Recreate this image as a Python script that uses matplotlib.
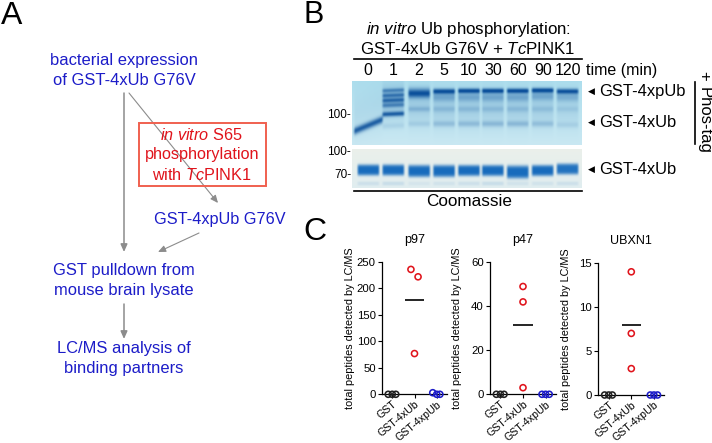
import numpy as np
import matplotlib
matplotlib.use('Agg')
import matplotlib.pyplot as plt
from matplotlib.patches import Rectangle

plt.rcParams['font.family'] = ['Liberation Sans', 'DejaVu Sans']
plt.rcParams['mathtext.fontset'] = 'custom'
plt.rcParams['mathtext.rm'] = 'Liberation Sans'
plt.rcParams['mathtext.it'] = 'Liberation Sans:italic'

# panel C data
categories = ['GST', 'GST-4xUb', 'GST-4xpUb']
p97_gst = [0, 0, 0]
p97_ub = [236, 222, 77]
p97_pub = [3, 0, 0]
p47_gst = [0, 0, 0]
p47_ub = [49, 42, 3]
p47_pub = [0, 0, 0]
ubxn1_gst = [0, 0, 0]
ubxn1_ub = [14, 7, 3]
ubxn1_pub = [0, 0, 0]

# panel B lanes
times = ['0', '1', '2', '5', '10', '30', '60', '90', '120']
# (y pixel in gel, width, strength) per lane
upper_bands = [
    [(125.5, 3.6, 0.85), (110, 22, .06)],
    [(90, 2.0, .5), (95, 2.1, .55), (100, 2.2, .6), (105, 2.2, .45), (114, 2.4, .8), (126, 3, .1), (100, 16, .25)],
    [(93, 4.6, .9), (109, 2.6, .2), (124, 2.8, .12), (105, 18, .14)],
    [(91, 2.6, .95), (97, 4.4, .32), (109, 3.0, .16), (124, 3.0, .2), (108, 18, .13)],
    [(90.5, 2.4, 1.0), (97, 4.4, .32), (109, 3.0, .16), (124, 3.0, .22), (108, 18, .13)],
    [(90.5, 2.4, 1.0), (97, 4.4, .32), (109, 3.0, .15), (124, 3.0, .24), (108, 18, .13)],
    [(90.5, 2.4, 1.0), (97, 4.4, .32), (109, 3.0, .15), (124, 3.0, .24), (108, 18, .13)],
    [(90, 2.4, 1.0), (96, 4.4, .32), (109, 3.0, .13), (124, 3.0, .2), (108, 18, .12)],
    [(91, 2.6, .92), (97, 4.4, .28), (109, 3.0, .1), (125, 3.0, .11), (108, 18, .09)],
]
lane_tilt = [-0.42, -0.04, 0, 0, 0, 0, 0, 0, 0]
lower_bands = [
    [(170.5, 5.5, 1.0), (184, 2, .1)], [(170.5, 5.5, 1.0), (184, 2, .12)],
    [(171.5, 6.0, 1.0), (184, 2, .06)], [(171.5, 6.0, 1.0), (184, 2, .08)],
    [(171, 5.5, 1.0), (184, 2, .1)], [(171, 5.5, 1.0), (184, 2, .12)],
    [(172.5, 6.5, 1.0), (184, 2, .08)], [(171, 5.5, 1.0), (184, 2, .08)],
    [(169.5, 5.5, .95), (184, 2, .1)],
]


def gel_image(x0, x1, y0, y1, lane_x, lane_bands, tilt, bg_top, bg_bot, ink, power):
    # one sample per pixel, imshow smooths it; bands are soft profiles in y
    xs = np.linspace(x0, x1, int(x1 - x0))
    ys = np.linspace(y0, y1, int(y1 - y0))
    X, Y = np.meshgrid(xs, ys)
    a = np.zeros_like(X)
    for cx, bands, t in zip(lane_x, lane_bands, tilt):
        half = 15.5 if t < -0.1 else 12
        mask = np.clip((half - np.abs(X - cx)) / 2.5, 0, 1)
        for by, w, s in bands:
            a = a + s * mask * np.exp(-np.abs((Y - by - t * (X - cx)) / w) ** power)
    a = np.clip(a, 0, 1)[..., None]
    f = ((Y - y0) / (y1 - y0))[..., None]
    bg = np.array(bg_top) * (1 - f) + np.array(bg_bot) * f
    return bg * (1 - a) + np.array(ink) * a


fig = plt.figure(figsize=(7.12, 4.43), dpi=100)
W, H = 712.0, 443.0
ov = fig.add_axes([0, 0, 1, 1])
ov.set_xlim(0, W)
ov.set_ylim(H, 0)
ov.axis('off')

blue = '#1c1cc8'
red = '#e0141c'
grey = '#8c8c8c'

# panel letters
ov.text(1, 16, 'A', fontsize=23, va='center', color='black')
ov.text(304, 15, 'B', fontsize=22, va='center', color='black')
ov.text(303, 232, 'C', fontsize=23, va='center', color='black')

# panel A flow chart
for y, s in [(60, 'bacterial expression'), (80, 'of GST-4xUb G76V'),
             (271, 'GST pulldown from'), (291, 'mouse brain lysate'),
             (349, 'LC/MS analysis of'), (369, 'binding partners')]:
    ov.text(124, y, s, color=blue, fontsize=11.9, ha='center', va='center')
ov.text(220, 219, 'GST-4xpUb G76V', color=blue, fontsize=11.7, ha='center', va='center')


def arrow(x0, y0, x1, y1, lw=1.0):
    ov.annotate('', xy=(x1, y1), xytext=(x0, y0),
                arrowprops=dict(arrowstyle='-|>,head_width=0.2,head_length=0.45',
                                color=grey, lw=lw, shrinkA=0, shrinkB=0))


arrow(124, 93, 124, 252, 1.1)
arrow(129, 93, 218, 203, 0.8)
arrow(199, 233, 158, 252, 0.8)
arrow(124, 304, 124, 339, 1.1)

ov.add_patch(Rectangle((138.5, 122.5), 127.5, 63, fc='none', ec='#f0604f', lw=1.4, zorder=3))
ov.text(201, 135, r'$\mathit{in\ vitro}$ S65', color=red, fontsize=11.7, ha='center', va='center', zorder=4)
ov.text(202, 155, 'phosphorylation', color=red, fontsize=11.7, ha='center', va='center', zorder=4)
ov.text(202, 175, r'with $\mathit{Tc}$PINK1', color=red, fontsize=11.7, ha='center', va='center', zorder=4)

# panel B gels
lane_x = [368, 393, 419, 444, 469, 493, 518, 543, 568]
img = gel_image(352, 582, 81, 145, lane_x, upper_bands, lane_tilt,
                (0.68, 0.87, 0.93), (0.79, 0.91, 0.95), (0.03, 0.30, 0.60), 2)
ov.imshow(img, extent=(352, 582, 145, 81), aspect='auto', interpolation='bicubic', zorder=1)
img2 = gel_image(352, 582, 150, 188, lane_x, lower_bands, [0] * 9,
                 (0.92, 0.94, 0.92), (0.88, 0.93, 0.94), (0.09, 0.42, 0.74), 4)
ov.imshow(img2, extent=(352, 582, 188, 150), aspect='auto', interpolation='bicubic', zorder=1)
ov.set_xlim(0, W)
ov.set_ylim(H, 0)

ov.text(468, 29, r'$\mathit{in\ vitro}$ Ub phosphorylation:', fontsize=12.2, ha='center', va='center')
ov.text(468, 49, r'GST-4xUb G76V + $\mathit{Tc}$PINK1', fontsize=12.2, ha='center', va='center')
ov.plot([354, 582], [59, 59], color='black', lw=1.2)
ov.plot([354, 582], [190.5, 190.5], color='black', lw=1.2)
ov.text(469, 201, 'Coomassie', fontsize=12.3, ha='center', va='center')
for x, t in zip(lane_x, times):
    ov.text(x, 70, t, fontsize=11.5, ha='center', va='center')
ov.text(622, 70, 'time (min)', fontsize=11.5, ha='center', va='center')

for y, s in [(91, 'GST-4xpUb'), (122, 'GST-4xUb'), (169, 'GST-4xUb')]:
    ov.text(588, y, '\u25c0', fontsize=6.5, ha='left', va='center', family='DejaVu Sans')
    ov.text(599, y, s, fontsize=11.9, ha='left', va='center')
for y, s in [(115, '100-'), (152, '100-'), (175, '70-')]:
    ov.text(351, y, s, fontsize=8.5, ha='right', va='center')

ov.plot([695, 695], [82, 144], color='black', lw=1.2)
ov.text(704, 76, '+', fontsize=12, rotation=-90, ha='center', va='center')
ov.text(704, 120, 'Phos-tag', fontsize=12, rotation=-90, ha='center', va='center')


# panel C scatter panels
def panel(x_left, x_right, y_top, y_bot, ymax, ticks, title, gst, ub, pub, ub_off, pub_off):
    ax = fig.add_axes([x_left / W, 1 - y_bot / H, (x_right - x_left) / W, (y_bot - y_top) / H])
    ax.patch.set_alpha(0)
    ax.set_xlim(-0.46, 2.46)
    ax.set_ylim(0, ymax)
    for s in ['top', 'right']:
        ax.spines[s].set_visible(False)
    for s in ['left', 'bottom']:
        ax.spines[s].set_linewidth(0.9)
    ax.set_xticks([0, 1, 2])
    ax.set_xticklabels(categories, rotation=40, ha='right', rotation_mode='anchor', fontsize=7.7)
    ax.set_yticks(ticks)
    ax.tick_params(axis='y', labelsize=8.2, length=3, width=0.8, pad=1.5)
    ax.tick_params(axis='x', length=3, width=0.8, pad=0.5)
    ax.set_ylabel('total peptides detected by LC/MS', fontsize=7.8, labelpad=2)
    ax.yaxis.set_label_coords(-0.42, 0.5)
    ax.set_title(title, fontsize=9, pad=14)
    off = [-0.18, 0, 0.16]
    style = dict(fc='none', s=19, lw=1.15, clip_on=False, zorder=4)
    ax.scatter(np.arange(3) * 0 + off, gst, ec='#222222', **style)
    ax.scatter(np.ones(3) + ub_off, ub, ec=red, **style)
    ax.scatter(np.ones(3) * 2 + pub_off, pub, ec=blue, **style)
    ax.hlines(np.mean(ub), 0.57, 1.43, color='black', lw=1.2)
    return ax


panel(382, 447, 262, 394.3, 250, [0, 50, 100, 150, 200, 250], 'p97',
      p97_gst, p97_ub, p97_pub, [-0.16, 0.16, 0], [-0.18, 0, 0.14])
panel(490, 556, 262.3, 394.3, 60, [0, 20, 40, 60], 'p47',
      p47_gst, p47_ub, p47_pub, [0, 0, 0], [-0.16, 0, 0.16])
panel(598.3, 664.3, 263, 395, 15, [0, 5, 10, 15], 'UBXN1',
      ubxn1_gst, ubxn1_ub, ubxn1_pub, [0, 0, 0], [-0.16, 0, 0.16])

fig.savefig('out.png', dpi=100)
